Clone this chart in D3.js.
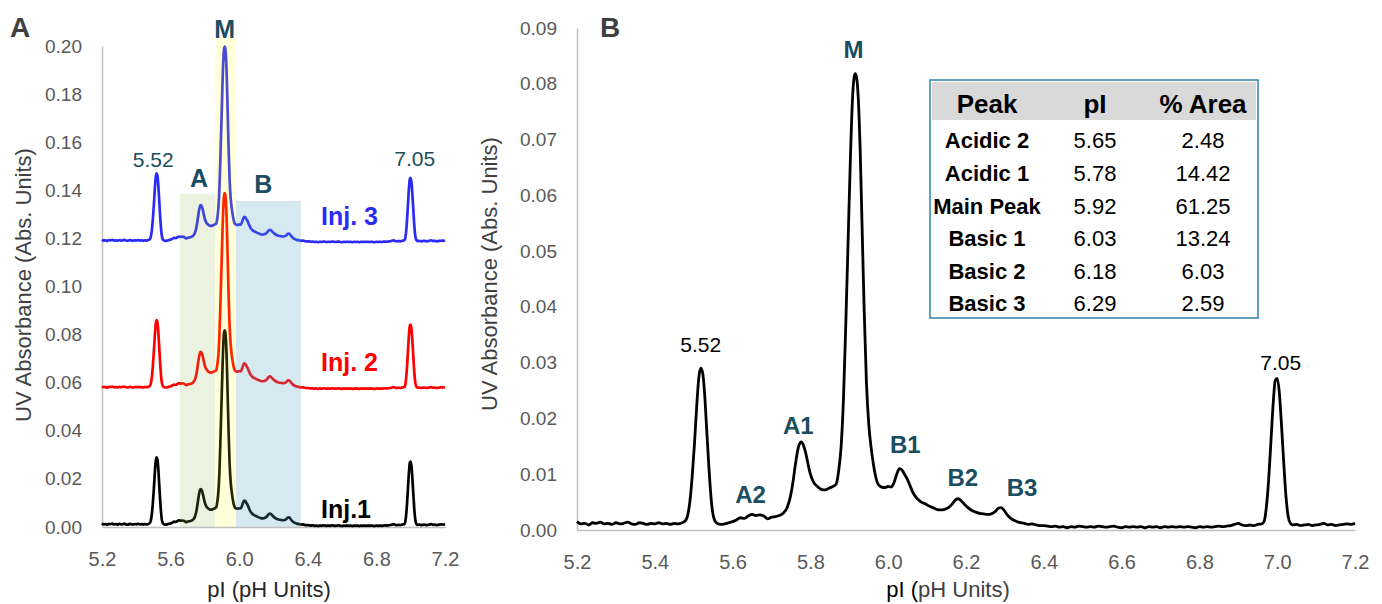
<!DOCTYPE html>
<html lang="en">
<head>
<meta charset="UTF-8"/>
<title>cIEF charge variant profiles</title>
<script src="https://d3js.org/d3.v7.min.js"></script>
<style>
  body { margin: 0; background: #ffffff; }
  text { font-family: "Liberation Sans", Arial, sans-serif; }
</style>
</head>
<body>
<svg id="chart" width="1382" height="604"></svg>
<script>
// ---- data ----
const xTicksA = [5.2, 5.6, 6.0, 6.4, 6.8, 7.2];
const xTicksB = [5.2, 5.4, 5.6, 5.8, 6.0, 6.2, 6.4, 6.6, 6.8, 7.0, 7.2];
const yTicksA = [0, 0.02, 0.04, 0.06, 0.08, 0.10, 0.12, 0.14, 0.16, 0.18, 0.20];
const yTicksB = [0, 0.01, 0.02, 0.03, 0.04, 0.05, 0.06, 0.07, 0.08, 0.09];

// electropherogram, [pI, absorbance]
const trace = [
  [5.20,0.0015],[5.21,0.0011],[5.22,0.0012],[5.23,0.0009],[5.24,0.0013],[5.25,0.0012],
  [5.26,0.0014],[5.27,0.0011],[5.28,0.0012],[5.29,0.0010],[5.30,0.0013],[5.31,0.0011],
  [5.32,0.0012],[5.33,0.0014],[5.34,0.0011],[5.35,0.0010],[5.36,0.0013],[5.37,0.0012],
  [5.38,0.0010],[5.39,0.0012],[5.40,0.0011],[5.41,0.0013],[5.42,0.0011],[5.43,0.0012],
  [5.44,0.0010],[5.45,0.0012],[5.46,0.0011],[5.47,0.0013],[5.478,0.0016],[5.484,0.0025],
  [5.490,0.0050],[5.496,0.0095],[5.502,0.0155],[5.508,0.0225],[5.513,0.0272],[5.518,0.0290],
  [5.523,0.0282],[5.528,0.0245],[5.533,0.0185],[5.538,0.0125],[5.543,0.0072],[5.548,0.0035],
  [5.554,0.0017],[5.560,0.0012],[5.57,0.0010],[5.58,0.0011],[5.59,0.0013],[5.60,0.0015],
  [5.61,0.0018],[5.62,0.0022],[5.63,0.0021],[5.64,0.0025],[5.65,0.0028],[5.66,0.0026],
  [5.67,0.0027],[5.68,0.0025],[5.69,0.0020],[5.70,0.0023],[5.71,0.0024],[5.72,0.0026],
  [5.73,0.0030],[5.74,0.0040],[5.748,0.0058],[5.755,0.0085],[5.762,0.0120],[5.769,0.0148],
  [5.776,0.0158],[5.782,0.0152],[5.788,0.0138],[5.794,0.0118],[5.800,0.0100],[5.808,0.0086],
  [5.818,0.0078],[5.828,0.0073],[5.838,0.0072],[5.848,0.0075],[5.858,0.0078],[5.866,0.0082],
  [5.873,0.0108],[5.879,0.0150],[5.885,0.0235],[5.891,0.0370],[5.897,0.0520],[5.903,0.0670],
  [5.908,0.0770],[5.9125,0.0812],[5.9155,0.0818],[5.9185,0.0812],[5.923,0.0775],[5.928,0.0680],
  [5.933,0.0540],[5.938,0.0400],[5.944,0.0265],[5.950,0.0190],[5.956,0.0148],[5.962,0.0118],
  [5.968,0.0095],[5.975,0.0081],[5.983,0.0077],[5.992,0.0076],[6.000,0.0078],[6.008,0.0077],
  [6.015,0.0085],[6.022,0.0100],[6.029,0.0110],[6.035,0.0108],[6.042,0.0100],[6.050,0.0090],
  [6.058,0.0076],[6.066,0.0064],[6.075,0.0056],[6.085,0.0050],[6.095,0.0047],[6.105,0.0043],
  [6.115,0.0040],[6.125,0.0037],[6.135,0.0036],[6.145,0.0037],[6.155,0.0040],[6.165,0.0047],
  [6.173,0.0054],[6.180,0.0056],[6.188,0.0052],[6.196,0.0046],[6.205,0.0040],[6.215,0.0035],
  [6.225,0.0032],[6.235,0.0030],[6.245,0.0029],[6.255,0.0028],[6.265,0.0029],[6.275,0.0033],
  [6.283,0.0039],[6.290,0.0040],[6.297,0.0036],[6.305,0.0028],[6.315,0.0021],[6.325,0.0017],
  [6.335,0.0014],[6.35,0.0012],[6.36,0.0010],[6.37,0.0011],[6.38,0.0009],[6.39,0.0008],
  [6.40,0.0008],[6.41,0.0007],[6.42,0.0006],[6.43,0.0007],[6.44,0.0005],[6.45,0.0006],
  [6.46,0.0004],[6.47,0.0006],[6.48,0.0005],[6.49,0.0007],[6.50,0.0006],[6.51,0.0005],
  [6.52,0.0006],[6.53,0.0005],[6.54,0.0007],[6.55,0.0006],[6.56,0.0005],[6.57,0.0006],
  [6.58,0.0007],[6.59,0.0005],[6.60,0.0004],[6.61,0.0006],[6.62,0.0005],[6.63,0.0006],
  [6.64,0.0005],[6.65,0.0006],[6.66,0.0004],[6.67,0.0006],[6.68,0.0005],[6.69,0.0006],
  [6.70,0.0004],[6.71,0.0006],[6.72,0.0005],[6.73,0.0006],[6.74,0.0005],[6.75,0.0006],
  [6.76,0.0005],[6.77,0.0006],[6.78,0.0005],[6.79,0.0004],[6.80,0.0006],[6.81,0.0005],
  [6.82,0.0006],[6.83,0.0005],[6.84,0.0006],[6.85,0.0007],[6.86,0.0006],[6.87,0.0007],
  [6.88,0.0008],[6.89,0.0010],[6.90,0.0012],[6.91,0.0009],[6.92,0.0008],[6.93,0.0009],
  [6.94,0.0008],[6.95,0.0010],[6.96,0.0011],[6.966,0.0015],[6.972,0.0040],[6.978,0.0090],
  [6.984,0.0160],[6.990,0.0230],[6.995,0.0268],[7.000,0.0272],[7.005,0.0250],[7.010,0.0200],
  [7.016,0.0130],[7.022,0.0065],[7.028,0.0025],[7.034,0.0012],[7.04,0.0009],[7.05,0.0010],
  [7.06,0.0008],[7.07,0.0009],[7.08,0.0010],[7.09,0.0008],[7.10,0.0009],[7.11,0.0010],
  [7.12,0.0012],[7.13,0.0009],[7.14,0.0010],[7.15,0.0008],[7.16,0.0009],[7.17,0.0010],
  [7.18,0.0011],[7.19,0.0010],[7.20,0.0012]
];

// panel A: three injections stacked with an offset
const injNames   = ["Inj.1", "Inj. 2", "Inj. 3"];
const injOffsets = [0, 0.057, 0.118];
const injColors  = ["#000000", "#ff0000", "#2b2bf7"];

// panel A shaded zones (acidic / main / basic)
const zoneNames = ["A", "M", "B"];
const zoneStart = [5.655, 5.859, 5.981];
const zoneEnd   = [5.859, 5.981, 6.360];
const zoneTop   = [0.1385, 0.2033, 0.1356];

// table in panel B
const peakNames = ["Acidic 2", "Acidic 1", "Main Peak", "Basic 1", "Basic 2", "Basic 3"];
const peakPI    = ["5.65", "5.78", "5.92", "6.03", "6.18", "6.29"];
const peakArea  = ["2.48", "14.42", "61.25", "13.24", "6.03", "2.59"];

// peak labels, anchored in data units [pI, abs]
const labelsA = [["5.52", 5.499, 0.1498], ["7.05", 7.023, 0.1502]];
const labelsB = [["5.52", 5.518, 0.0319], ["7.05", 7.009, 0.0287]];
const tagsB = [["A2", 5.646, 0.0048], ["A1", 5.769, 0.0173], ["M", 5.911, 0.0846],
               ["B1", 6.044, 0.0138], ["B2", 6.192, 0.0079], ["B3", 6.344, 0.0061]];
const zoneLabelPos = [[5.766, 0.1415], [5.9155, 0.2035], [6.141, 0.139]];
const injLabelPos  = [[6.477, 0.0037], [6.477, 0.0650], [6.477, 0.1256]];

// ---- drawing ----
const svg = d3.select("#chart");
const teal = "#1a4d60";
const tickColor = "#595959";
const axisColor = "#c0c0c0";

const xA = d3.scaleLinear().domain([5.2, 7.2]).range([102, 445]);
const yA = d3.scaleLinear().domain([0, 0.2]).range([527, 46]);
const xB = d3.scaleLinear().domain([5.2, 7.2]).range([577, 1355]);
const yB = d3.scaleLinear().domain([0, 0.09]).range([530, 28]);

function drawAxes(g, x, y, xt, yt) {
  const ax = g.append("g").attr("transform", "translate(0," + y.range()[0] + ")")
    .call(d3.axisBottom(x).tickValues(xt).tickSize(0).tickPadding(25).tickFormat(d3.format(".1f")));
  const ay = g.append("g").attr("transform", "translate(" + x.range()[0] + ",0)")
    .call(d3.axisLeft(y).tickValues(yt).tickSize(0).tickPadding(20).tickFormat(d3.format(".2f")));
  [ax, ay].forEach(function(a) {
    a.select(".domain").attr("stroke", axisColor).attr("stroke-width", 1.5);
    a.selectAll("text").attr("fill", tickColor).attr("font-family", "'Liberation Sans', Arial, sans-serif");
  });
  ax.selectAll("text").attr("font-size", 20);
  ay.selectAll("text").attr("font-size", 19);
}

// ---------- panel A ----------
const gA = svg.append("g");
drawAxes(gA, xA, yA, xTicksA, yTicksA);

injOffsets.forEach(function(off, i) {
  const line = d3.line().curve(d3.curveMonotoneX)
    .x(function(d) { return xA(d[0]); })
    .y(function(d) { return yA(d[1] + off); });
  gA.append("path").datum(trace)
    .attr("d", line).attr("fill", "none")
    .attr("stroke", injColors[i]).attr("stroke-width", 2.7)
    .attr("stroke-linejoin", "round");
});

// shaded zones sit over the traces, semi transparent
const zoneFill = ["#9bbb59", "#ffff00", "#5ba3c3"];
const zoneAlpha = [0.19, 0.15, 0.25];
zoneNames.forEach(function(n, i) {
  gA.append("rect")
    .attr("x", xA(zoneStart[i])).attr("width", xA(zoneEnd[i]) - xA(zoneStart[i]))
    .attr("y", yA(zoneTop[i])).attr("height", yA(0) - yA(zoneTop[i]))
    .attr("fill", zoneFill[i]).attr("fill-opacity", zoneAlpha[i]);
  gA.append("text")
    .attr("x", xA(zoneLabelPos[i][0])).attr("y", yA(zoneLabelPos[i][1]))
    .attr("text-anchor", "middle").attr("font-weight", "bold").attr("font-size", 25)
    .attr("fill", teal).text(n);
});

labelsA.forEach(function(l) {
  gA.append("text").attr("x", xA(l[1])).attr("y", yA(l[2]))
    .attr("text-anchor", "middle").attr("font-size", 21).attr("fill", teal).text(l[0]);
});

injNames.forEach(function(n, i) {
  gA.append("text").attr("x", xA(injLabelPos[i][0])).attr("y", yA(injLabelPos[i][1]))
    .attr("font-weight", "bold").attr("font-size", 25).attr("fill", injColors[i]).text(n);
});

gA.append("text").attr("x", 269).attr("y", 597).attr("text-anchor", "middle")
  .attr("font-size", 22).attr("fill", "#262626").text("pI (pH Units)");
gA.append("text").attr("transform", "translate(31,285) rotate(-90)")
  .attr("text-anchor", "middle").attr("font-size", 22).attr("fill", "#404040")
  .text("UV Absorbance (Abs. Units)");
gA.append("text").attr("x", 10).attr("y", 37).attr("font-size", 28)
  .attr("font-weight", "bold").attr("fill", "#404040").text("A");

// ---------- panel B ----------
const gB = svg.append("g");
drawAxes(gB, xB, yB, xTicksB, yTicksB);

const lineB = d3.line().curve(d3.curveMonotoneX)
  .x(function(d) { return xB(d[0]); })
  .y(function(d) { return yB(d[1]); });
gB.append("path").datum(trace).attr("d", lineB).attr("fill", "none")
  .attr("stroke", "#000").attr("stroke-width", 2.8).attr("stroke-linejoin", "round");

labelsB.forEach(function(l) {
  gB.append("text").attr("x", xB(l[1])).attr("y", yB(l[2]))
    .attr("text-anchor", "middle").attr("font-size", 21).attr("fill", "#000").text(l[0]);
});
tagsB.forEach(function(l) {
  gB.append("text").attr("x", xB(l[1])).attr("y", yB(l[2]))
    .attr("text-anchor", "middle").attr("font-size", 24).attr("font-weight", "bold")
    .attr("fill", teal).text(l[0]);
});

const tB = gB.append("text").attr("x", 948).attr("y", 597).attr("text-anchor", "middle")
  .attr("font-size", 22);
tB.append("tspan").attr("fill", "#000").text("pI (");
tB.append("tspan").attr("fill", "#404040").text("pH Units)");
gB.append("text").attr("transform", "translate(497,274) rotate(-90)")
  .attr("text-anchor", "middle").attr("font-size", 22).attr("fill", "#404040")
  .text("UV Absorbance (Abs. Units)");
gB.append("text").attr("x", 600).attr("y", 37).attr("font-size", 28)
  .attr("font-weight", "bold").attr("fill", "#404040").text("B");

// table
const tbl = gB.append("g").attr("font-family", "Lato, 'Liberation Sans', sans-serif");
tbl.append("rect").attr("x", 930).attr("y", 80).attr("width", 328).attr("height", 238)
  .attr("fill", "#fff").attr("stroke", "#3a8db0").attr("stroke-width", 1.6);
tbl.append("rect").attr("x", 932).attr("y", 82).attr("width", 324).attr("height", 38)
  .attr("fill", "#d9d9d9");
const colX = [987, 1095, 1203];
["Peak", "pI", "% Area"].forEach(function(h, i) {
  tbl.append("text").attr("x", colX[i]).attr("y", 113).attr("text-anchor", "middle")
    .attr("font-family", "Lato, sans-serif").attr("font-weight", "bold")
    .attr("font-size", 26).attr("fill", "#000").text(h);
});
peakNames.forEach(function(n, i) {
  const yy = 148.3 + i * 32.6;
  tbl.append("text").attr("x", colX[0]).attr("y", yy).attr("text-anchor", "middle")
    .attr("font-family", "Lato, sans-serif").attr("font-weight", "bold")
    .attr("font-size", 22).attr("fill", "#000").text(n);
  tbl.append("text").attr("x", colX[1]).attr("y", yy).attr("text-anchor", "middle")
    .attr("font-family", "Lato, sans-serif").attr("font-size", 22).attr("fill", "#000").text(peakPI[i]);
  tbl.append("text").attr("x", colX[2]).attr("y", yy).attr("text-anchor", "middle")
    .attr("font-family", "Lato, sans-serif").attr("font-size", 22).attr("fill", "#000").text(peakArea[i]);
});
</script>
</body>
</html>
